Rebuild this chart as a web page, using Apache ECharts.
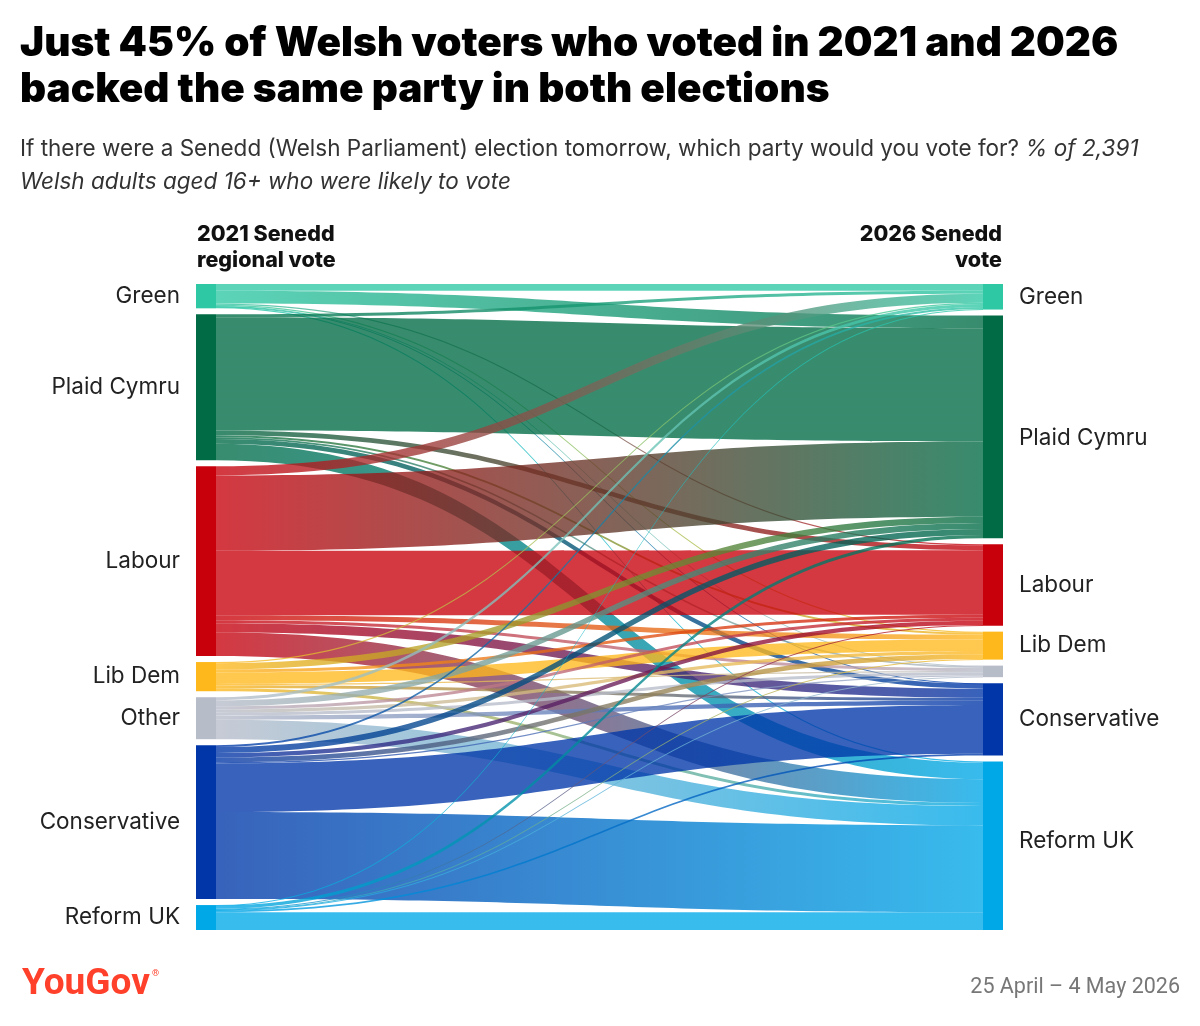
<!DOCTYPE html>
<html>
<head>
  <meta charset="utf-8">
  <script src="https://cdn.jsdelivr.net/npm/echarts@6/dist/echarts.min.js"></script>
  <style>
    html, body { margin: 0; padding: 0; background: #fff; }
  </style>
</head>
<body>
<div id="main" style="width:1200px;height:1026px;"></div>
<script type="text/javascript">
// parties, same order on both sides
var parties = ['Green', 'Plaid Cymru', 'Labour', 'Lib Dem', 'Other', 'Conservative', 'Reform UK'];
var partyColors = ['#2ec8a4', '#006b45', '#c8000b', '#ffb81c', '#b7bcc9', '#0036a8', '#00a8e8'];

// % of voters moving from 2021 party (row) to 2026 party, columns in `parties` order
var fromGreen        = [1.1, 2.1, 0.2, 0.2, 0.1, 0.1, 0.2];
var fromPlaid        = [0.5, 18.6, 0.8, 0.3, 0.3, 0.8, 2.7];
var fromLabour       = [1.5, 12.4, 10.6, 0.8, 0.5, 1.5, 3.9];
var fromLibDem       = [0.2, 1.0, 0.5, 1.9, 0.2, 0.5, 0.5];
var fromOther        = [0.5, 1.0, 0.5, 0.5, 0.5, 0.7, 3.2];
var fromConservative = [0.3, 1.0, 0.7, 0.8, 0.2, 8.0, 14.3];
var fromReform       = [0.1, 0.5, 0.1, 0.1, 0.1, 0.3, 2.9];
var flows = [fromGreen, fromPlaid, fromLabour, fromLibDem, fromOther, fromConservative, fromReform];

var font = 'Inter, "Noto Sans", sans-serif';

var nodes = [];
parties.forEach(function (p, i) {
  nodes.push({
    name: '2021 ' + p, party: p,
    itemStyle: { color: partyColors[i] },
    label: { position: 'left' }
  });
});
parties.forEach(function (p, i) {
  var lab = { position: 'right', show: p !== 'Other' };
  if (p === 'Plaid Cymru') lab.offset = [0, 11];
  if (p === 'Reform UK') lab.offset = [0, -5];
  nodes.push({
    name: '2026 ' + p, party: p,
    itemStyle: { color: partyColors[i] },
    label: lab
  });
});

var links = [];
flows.forEach(function (row, i) {
  row.forEach(function (v, j) {
    links.push({ source: '2021 ' + parties[i], target: '2026 ' + parties[j], value: v });
  });
});

var myChart = echarts.init(document.getElementById('main'));
myChart.setOption({
  backgroundColor: '#fff',
  animation: false,
  graphic: [
    {
      type: 'text', left: 20, top: 21,
      style: {
        text: 'Just 45% of Welsh voters who voted in 2021 and 2026\nbacked the same party in both elections',
        font: '900 40.5px ' + font, fill: '#000', lineHeight: 46
      }
    },
    {
      type: 'text', left: 20, top: 138,
      style: {
        text: '{n|If there were a Senedd (Welsh Parliament) election tomorrow, which party would you vote for? }{i|% of 2,391}\n{i|Welsh adults aged 16+ who were likely to vote}',
        rich: {
          n: { fontSize: 22.5, fontFamily: font, fill: '#333', lineHeight: 33 },
          i: { fontSize: 22.5, fontFamily: font, fill: '#333', lineHeight: 33, fontStyle: 'italic' }
        }
      }
    },
    {
      type: 'text', x: 197, y: 222,
      style: { text: '2021 Senedd\nregional vote', font: '800 21.5px ' + font, fill: '#111', lineHeight: 26 }
    },
    {
      type: 'text', x: 1002, y: 222,
      style: { text: '2026 Senedd\nvote', font: '800 21.5px ' + font, fill: '#111', lineHeight: 26, align: 'right' }
    },
    {
      type: 'text', left: 22, top: 966,
      style: { text: 'YouGov', font: 'bold 37px Roboto, sans-serif', fill: '#ff412c' }
    },
    {
      type: 'text', left: 152, top: 969,
      style: { text: '®', font: '9px Roboto, sans-serif', fill: '#ff412c' }
    },
    {
      type: 'text', right: 20, top: 977,
      style: { text: '25 April – 4 May 2026', font: '21.5px Roboto, sans-serif', fill: '#777', align: 'right' }
    }
  ],
  series: [{
    type: 'sankey',
    left: 196, right: 197, top: 284, bottom: 96,
    nodeWidth: 20,
    nodeGap: 6,
    layoutIterations: 0,
    draggable: false,
    emphasis: { disabled: true },
    data: nodes,
    links: links,
    itemStyle: { borderWidth: 0 },
    label: {
      distance: 16,
      fontSize: 22.5,
      fontFamily: font,
      color: '#222',
      formatter: function (p) { return p.data.party; }
    },
    lineStyle: { color: 'gradient', opacity: 0.78, curveness: 0.5 }
  }]
});
</script>
</body>
</html>
